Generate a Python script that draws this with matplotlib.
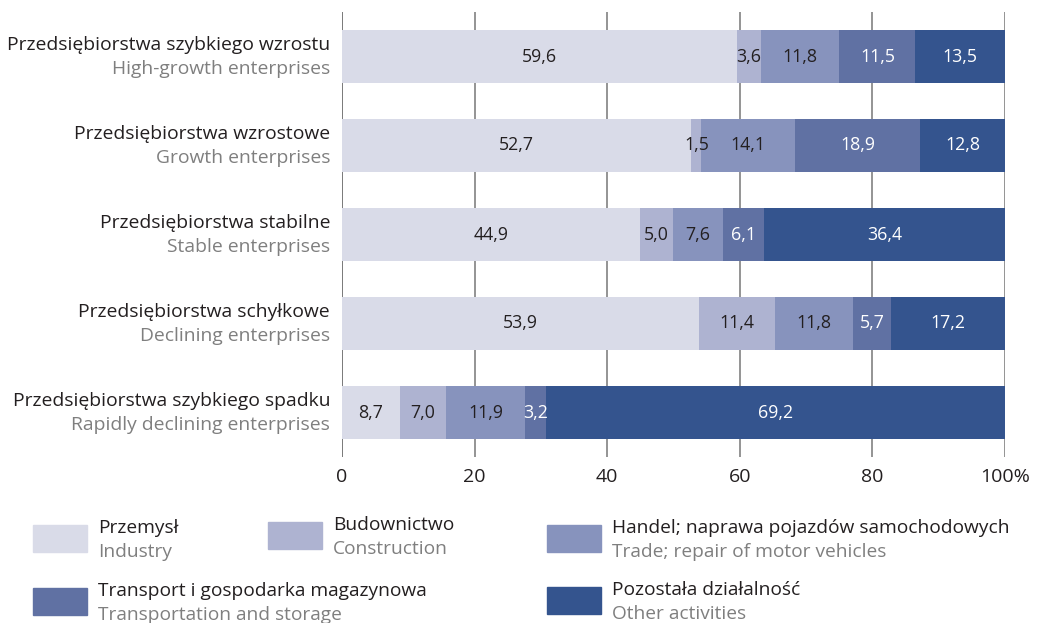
import matplotlib
matplotlib.use('Agg')
import matplotlib.pyplot as plt
from matplotlib.patches import Rectangle

plt.rcParams['font.family'] = ['Open Sans', 'DejaVu Sans']

# kategorie (od góry do dołu)
kategorie_pl = ['Przedsiębiorstwa szybkiego wzrostu', 'Przedsiębiorstwa wzrostowe',
                'Przedsiębiorstwa stabilne', 'Przedsiębiorstwa schyłkowe',
                'Przedsiębiorstwa szybkiego spadku']
kategorie_en = ['High-growth enterprises', 'Growth enterprises', 'Stable enterprises',
                'Declining enterprises', 'Rapidly declining enterprises']

# serie (udziały w %)
przemysl = [59.6, 52.7, 44.9, 53.9, 8.7]
budownictwo = [3.6, 1.5, 5.0, 11.4, 7.0]
handel = [11.8, 14.1, 7.6, 11.8, 11.9]
transport = [11.5, 18.9, 6.1, 5.7, 3.2]
pozostala = [13.5, 12.8, 36.4, 17.2, 69.2]

serie_pl = ['Przemysł', 'Budownictwo', 'Handel; naprawa pojazdów samochodowych',
            'Transport i gospodarka magazynowa', 'Pozostała działalność']
serie_en = ['Industry', 'Construction', 'Trade; repair of motor vehicles',
            'Transportation and storage', 'Other activities']

ticks = [0, 20, 40, 60, 80, 100]
tick_labels = ['0', '20', '40', '60', '80', '100%']

kolory = ['#d9dbe8', '#aeb3d1', '#8793bd', '#6071a3', '#34548e']
kolory_tekstu = ['#231f20', '#231f20', '#231f20', 'white', 'white']
czarny = '#231f20'
szary = '#7f7f7f'


def wykres():
    fig = plt.figure(figsize=(10.41, 6.23), dpi=100)
    ax = fig.add_axes([342 / 1041, 1 - 457 / 623, 663 / 1041, 445 / 623])

    y = list(range(len(kategorie_pl)))
    lewo = [0] * len(y)
    for dane, kol, kt in zip([przemysl, budownictwo, handel, transport, pozostala],
                             kolory, kolory_tekstu):
        ax.barh(y, dane, left=lewo, height=0.585, color=kol, zorder=3)
        for i, v in enumerate(dane):
            ax.text(lewo[i] + v / 2, y[i], f'{v:.1f}'.replace('.', ','),
                    ha='center', va='center', color=kt, fontsize=12.8, zorder=4)
        lewo = [a + b for a, b in zip(lewo, dane)]

    ax.set_xlim(0, 100)
    ax.set_ylim(4.5, -0.5)
    ax.set_xticks(ticks)
    ax.set_xticklabels(tick_labels, fontsize=14, color=czarny)
    ax.set_yticks([])
    ax.tick_params(axis='x', length=0, pad=8)
    for s in ax.spines.values():
        s.set_visible(False)
    for t in ticks:
        ax.axvline(t, color='#777777' if t > 0 else '#555555', lw=1.1, zorder=1)

    for i in y:
        ax.text(-0.018, i - 0.13, kategorie_pl[i], transform=ax.get_yaxis_transform(),
                ha='right', va='center', fontsize=13.9, color=czarny)
        ax.text(-0.018, i + 0.14, kategorie_en[i], transform=ax.get_yaxis_transform(),
                ha='right', va='center', fontsize=13.9, color=szary)

    # legenda
    pozycje = [(33, 525), (268, 522), (547, 525), (33, 588), (547, 587)]
    W, H = 1041, 623
    for (px, py), kol, pl_, en_ in zip(pozycje, kolory, serie_pl, serie_en):
        fig.patches.append(Rectangle((px / W, 1 - (py + 27) / H), 54 / W, 27 / H,
                                     transform=fig.transFigure, color=kol))
        fig.text((px + 65) / W, 1 - (py + 3) / H, pl_, ha='left', va='center',
                 fontsize=13.8, color=czarny)
        fig.text((px + 65) / W, 1 - (py + 27) / H, en_, ha='left', va='center',
                 fontsize=13.8, color=szary)

    fig.savefig('out.png', dpi=100)


if __name__ == '__main__':
    wykres()
